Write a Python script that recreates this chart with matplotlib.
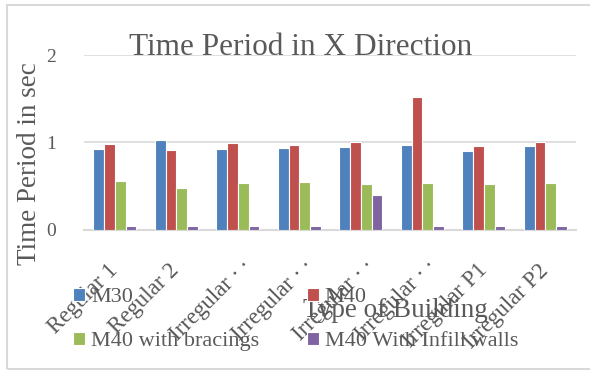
import matplotlib.pyplot as plt
import matplotlib.transforms as mtransforms
from matplotlib.patches import Rectangle
import numpy as np

cut = "Irregular \u00b7\u2009\u00b7"
buildings = ["Regular 1", "Regular 2", cut, cut, cut, cut,
             "Irregular P1", "Irregular P2"]
m30 = [0.93, 1.03, 0.93, 0.94, 0.95, 0.97, 0.90, 0.96]
m40 = [0.98, 0.91, 0.99, 0.97, 1.00, 1.52, 0.96, 1.01]
m40_bracings = [0.56, 0.48, 0.54, 0.55, 0.53, 0.54, 0.53, 0.54]
m40_infill = [0.05, 0.04, 0.04, 0.05, 0.40, 0.04, 0.05, 0.04]

series_names = ["M30", "M40", "M40 with bracings", "M40 With Infill walls"]
colors = ["#4F81BD", "#C0504D", "#9BBB59", "#8064A2"]
text_color = "#595959"
grid_color = "#D9D9D9"


def main():
    plt.rcParams["font.family"] = ["Liberation Serif", "DejaVu Serif"]

    fig = plt.figure(figsize=(5.9, 3.72), dpi=100)
    ax = fig.add_axes([0.1424, 0.382, 0.834, 0.470])

    x = np.arange(len(buildings))
    width = 0.175
    bars = []
    for i, values in enumerate([m30, m40, m40_bracings, m40_infill]):
        b = ax.bar(x + (i - 1.5) * width, values, width, color=colors[i],
                   edgecolor="white", linewidth=0.8, label=series_names[i],
                   zorder=3)
        bars.append(b)

    ax.set_xlim(-0.5, len(buildings) - 0.5)
    ax.set_ylim(0, 2)
    ax.set_yticks([0, 1, 2])
    ax.yaxis.grid(True, color=grid_color, linewidth=1.2, zorder=0)
    for side in ["top", "right", "left"]:
        ax.spines[side].set_visible(False)
    ax.spines["bottom"].set_color(grid_color)
    ax.spines["bottom"].set_linewidth(1.5)
    ax.tick_params(axis="both", length=0, colors=text_color)
    ax.tick_params(axis="y", labelsize=14, pad=20)

    ax.set_xticks(x)
    ax.set_xticklabels(buildings, rotation=45, ha="right",
                       rotation_mode="anchor", va="center", fontsize=16.5)
    ax.tick_params(axis="x", pad=27)
    # truncated names sit a little further along the diagonal
    shift = mtransforms.ScaledTranslation(11 / 100, 5 / 100, fig.dpi_scale_trans)
    for lbl in ax.get_xticklabels():
        if lbl.get_text() == cut:
            lbl.set_transform(lbl.get_transform() + shift)

    ax.set_title("Time Period in X Direction", fontsize=22.5, color=text_color,
                 x=0.44, y=1.0, va="baseline", pad=0)
    ax.set_ylabel("Time Period in sec", fontsize=19.5, color=text_color)
    ax.yaxis.set_label_coords(-0.086, 0.38)
    ax.set_xlabel("Type of Building", fontsize=19.5, color=text_color,
                  va="center")
    ax.xaxis.set_label_coords(0.632, -0.46)

    handles = [bars[0], bars[2], bars[1], bars[3]]
    labels = [series_names[0], series_names[2], series_names[1], series_names[3]]
    leg = fig.legend(handles, labels, ncol=2, loc="upper left",
                     bbox_to_anchor=(0.124, 0.226), frameon=False,
                     fontsize=16, handlelength=0.55, handleheight=0.55,
                     handletextpad=0.25, labelspacing=1.1,
                     columnspacing=2.15, borderaxespad=0, borderpad=0)
    for t in leg.get_texts():
        t.set_color(text_color)

    fig.patches.append(Rectangle((7 / 590, 3 / 372), 1.2, 364 / 372,
                                 transform=fig.transFigure, fill=False,
                                 edgecolor=grid_color, linewidth=1.5))

    fig.savefig("out.png", dpi=100)


if __name__ == "__main__":
    main()
